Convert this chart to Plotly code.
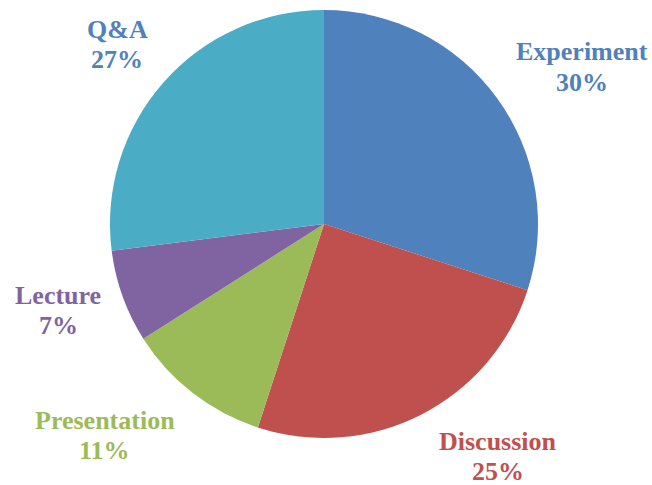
import plotly.graph_objects as go

# Share of class time by activity (percent)
categories = ["Experiment", "Discussion", "Presentation", "Lecture", "Q&A"]
values = [30, 25, 11, 7, 27]
colors = ["#4F81BD", "#C0504D", "#9BBB59", "#8064A2", "#4BACC6"]
label_colors = ["#4F81BD", "#C0504D", "#9BBB59", "#8064A2", "#4F81BD"]

W, H = 652, 485
CX, CY, R = 324, 224, 214  # pie centre and radius in pixels

# Label block centres (pixels from top-left)
label_centres = {
    "Experiment": (582, 67),
    "Discussion": (498, 456),
    "Presentation": (105, 435),
    "Lecture": (58, 310),
    "Q&A": (117, 44),
}
LINE_GAP = 30
FONT = "Liberation Serif"

fig = go.Figure(
    go.Pie(
        labels=categories,
        values=values,
        marker=dict(colors=colors, line=dict(width=0)),
        sort=False,
        direction="clockwise",
        rotation=0,
        textinfo="none",
        hoverinfo="label+percent",
        showlegend=False,
        domain=dict(
            x=[(CX - R) / W, (CX + R) / W],
            y=[(H - CY - R) / H, (H - CY + R) / H],
        ),
    )
)

total = sum(values)
annotations = []
for name, val, col in zip(categories, values, label_colors):
    px, py = label_centres[name]
    pct = f"{round(100 * val / total)}%"
    for text, dy in ((name, -LINE_GAP / 2), (pct, LINE_GAP / 2)):
        annotations.append(
            dict(
                x=px / W,
                y=1 - (py + dy) / H,
                xref="paper",
                yref="paper",
                text=f"<b>{text}</b>",
                showarrow=False,
                xanchor="center",
                yanchor="middle",
                font=dict(family=FONT, size=26, color=col),
            )
        )

fig.update_layout(
    width=W,
    height=H,
    margin=dict(l=0, r=0, t=0, b=0),
    paper_bgcolor="white",
    plot_bgcolor="white",
    annotations=annotations,
)

fig.write_html("out.html")
